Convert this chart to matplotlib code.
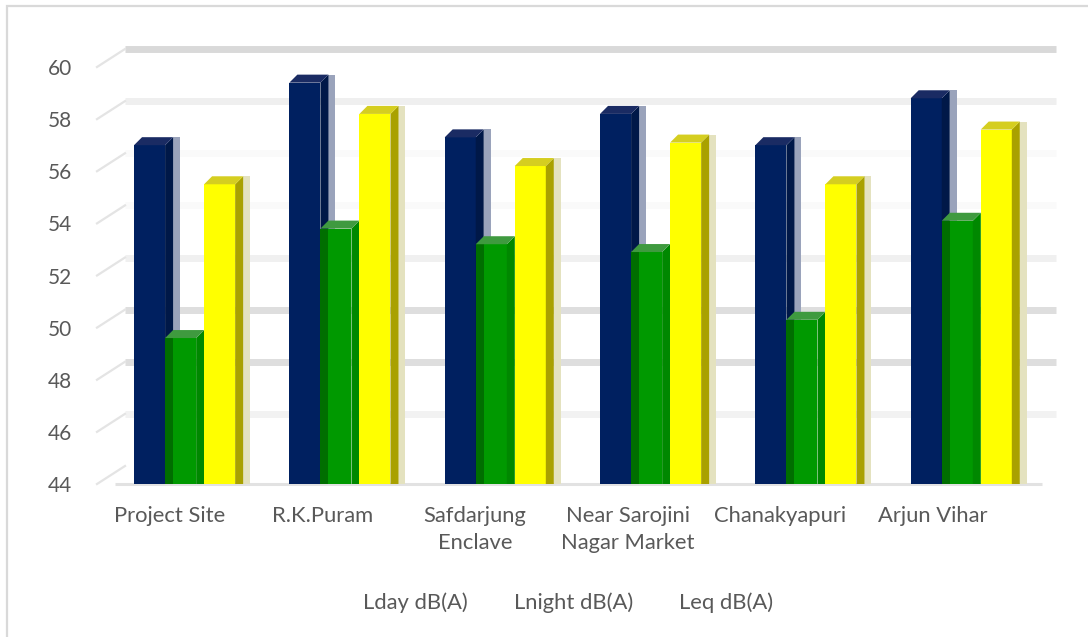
import matplotlib
matplotlib.use("Agg")
import matplotlib.pyplot as plt
from matplotlib.patches import Polygon, Rectangle
from matplotlib.transforms import ScaledTranslation

# ---- data -----------------------------------------------------------------
sites = ["Project Site", "R.K.Puram", "Safdarjung\nEnclave",
         "Near Sarojini\nNagar Market", "Chanakyapuri", "Arjun Vihar"]
series_names = ["Lday dB(A)", "Lnight dB(A)", "Leq dB(A)"]
lday = [57.0, 59.4, 57.3, 58.2, 57.0, 58.8]
lnight = [49.6, 53.8, 53.2, 52.9, 50.3, 54.1]
leq = [55.5, 58.2, 56.2, 57.1, 55.5, 57.6]
y_ticks = [44, 46, 48, 50, 52, 54, 56, 58, 60]

# ---- style ----------------------------------------------------------------
FONT = "Lato"
TXT = "#595959"
front_c = ["#002060", "#009900", "#ffff00"]
side_c = ["#001848", "#008800", "#a9a100"]
top_c = ["#1a2b63", "#3f9a3f", "#d5ce20"]
shade_c = ["#9aa3bb", "#a8cca8", "#e4e2bf"]
grid_c = {44: None, 46: "#f2f2f2", 48: "#dedede", 50: "#dedede", 52: "#f0f0f0",
          54: "#fafafa", 56: "#fafafa", 58: "#efefef", 60: "#d9d9d9"}

W, H, DPI = 1088, 637, 100
fig = plt.figure(figsize=(W / DPI, H / DPI), dpi=DPI)
fig.patch.set_facecolor("white")

# axes box in pixels: left, right, bottom(44), top(60)
ax_l, ax_r, ax_b, ax_t = 100, 1032, 484, 67
ax = fig.add_axes([ax_l / W, 1 - ax_b / H, (ax_r - ax_l) / W, (ax_b - ax_t) / H])
ax.set_xlim(-0.5, len(sites) - 0.5)
ax.set_ylim(44, 60)
for s in ax.spines.values():
    s.set_visible(False)
ax.set_facecolor("none")

# pixel -> data conversions
px_x = (len(sites)) / (ax_r - ax_l)
px_y = (60 - 44) / (ax_b - ax_t)

BAR_W = 0.2
OFFSETS = [-0.281, -0.081, 0.170]
DEPTH_X, DEPTH_Y = 8 * px_x, 8 * px_y
SHADE_X = 7 * px_x

# back-wall gridlines (shifted by perspective)
gdx, gdy = 25 * px_x, 18 * px_y
x_start = -0.5 + gdx
x_end = len(sites) - 0.5 + 24 * px_x
for v in y_ticks:
    c = grid_c.get(v)
    if c:
        ax.plot([x_start, x_end], [v + gdy, v + gdy], color=c, lw=5,
                solid_capstyle="butt", zorder=0, clip_on=False)
    # small perspective connector from the tick to the back wall
    ax.plot([-0.5 - 3 * px_x, -0.5 + gdx], [v, v + gdy], color="#e4e4e4",
            lw=1.6, zorder=0, clip_on=False)

# floor line
ax.plot([-0.5 + 15 * px_x, len(sites) - 0.5 + 10 * px_x], [44, 44],
        color="#e2e2e2", lw=2.2, zorder=0.5, clip_on=False,
        solid_capstyle="butt")

# ---- bars with pseudo-3D faces --------------------------------------------
values = [lday, lnight, leq]
z = 2
for i in range(len(sites)):
    for k, vals in enumerate(values):
        x0 = i + OFFSETS[k]
        v = vals[i]
        ax.bar(x0, v - 44, bottom=44, width=BAR_W, align="edge",
               color=front_c[k], zorder=z, linewidth=0)
        x1 = x0 + BAR_W
        if k == 1:
            # shaded strip where the previous bar's side falls
            ax.add_patch(Rectangle((x0, 44), DEPTH_X, v - 44,
                                   facecolor="#006e00", edgecolor="none",
                                   zorder=z + 0.1))
        # outer shade strip
        ax.add_patch(Polygon([(x1 + DEPTH_X, 44), (x1 + DEPTH_X + SHADE_X, 44),
                              (x1 + DEPTH_X + SHADE_X, v + DEPTH_Y),
                              (x1 + DEPTH_X, v + DEPTH_Y)],
                             closed=True, facecolor=shade_c[k], edgecolor="none",
                             zorder=z + 0.2))
        # side face
        ax.add_patch(Polygon([(x1, 44), (x1 + DEPTH_X, 44),
                              (x1 + DEPTH_X, v + DEPTH_Y), (x1, v)],
                             closed=True, facecolor=side_c[k], edgecolor="none",
                             zorder=z + 0.3))
        # top face
        ax.add_patch(Polygon([(x0, v), (x1, v), (x1 + DEPTH_X, v + DEPTH_Y),
                              (x0 + DEPTH_X, v + DEPTH_Y)],
                             closed=True, facecolor=top_c[k], edgecolor="none",
                             zorder=z + 0.4))
        z += 1

# ---- axes text -------------------------------------------------------------
ax.set_yticks(y_ticks)
ax.set_yticklabels([str(t) for t in y_ticks], fontfamily=FONT, fontsize=15,
                   color=TXT)
ax.tick_params(axis="y", length=0, pad=20)
ax.set_xticks(range(len(sites)))
ax.set_xticklabels(sites, fontfamily=FONT, fontsize=15.8, color=TXT,
                   linespacing=1.45, va="top")
ax.tick_params(axis="x", length=0, pad=16)
for i, lab in enumerate(ax.get_xticklabels()):
    dx = (-8 - 2.7 * i) / DPI
    lab.set_transform(lab.get_transform() + ScaledTranslation(dx, 0, fig.dpi_scale_trans))

# legend entries (text only)
for name, cx in zip(series_names, [415, 573.5, 726.5]):
    fig.text(cx / W, 1 - 603 / H, name, ha="center", va="center",
             fontfamily=FONT, fontsize=15.8, color=TXT)

# chart border
fig.add_artist(Rectangle((6.5 / W, -0.05), 1.2, 1 - 6 / H + 0.05,
                         transform=fig.transFigure, fill=False,
                         edgecolor="#d9d9d9", lw=1.6))

fig.savefig("out.png", dpi=DPI, facecolor="white")
